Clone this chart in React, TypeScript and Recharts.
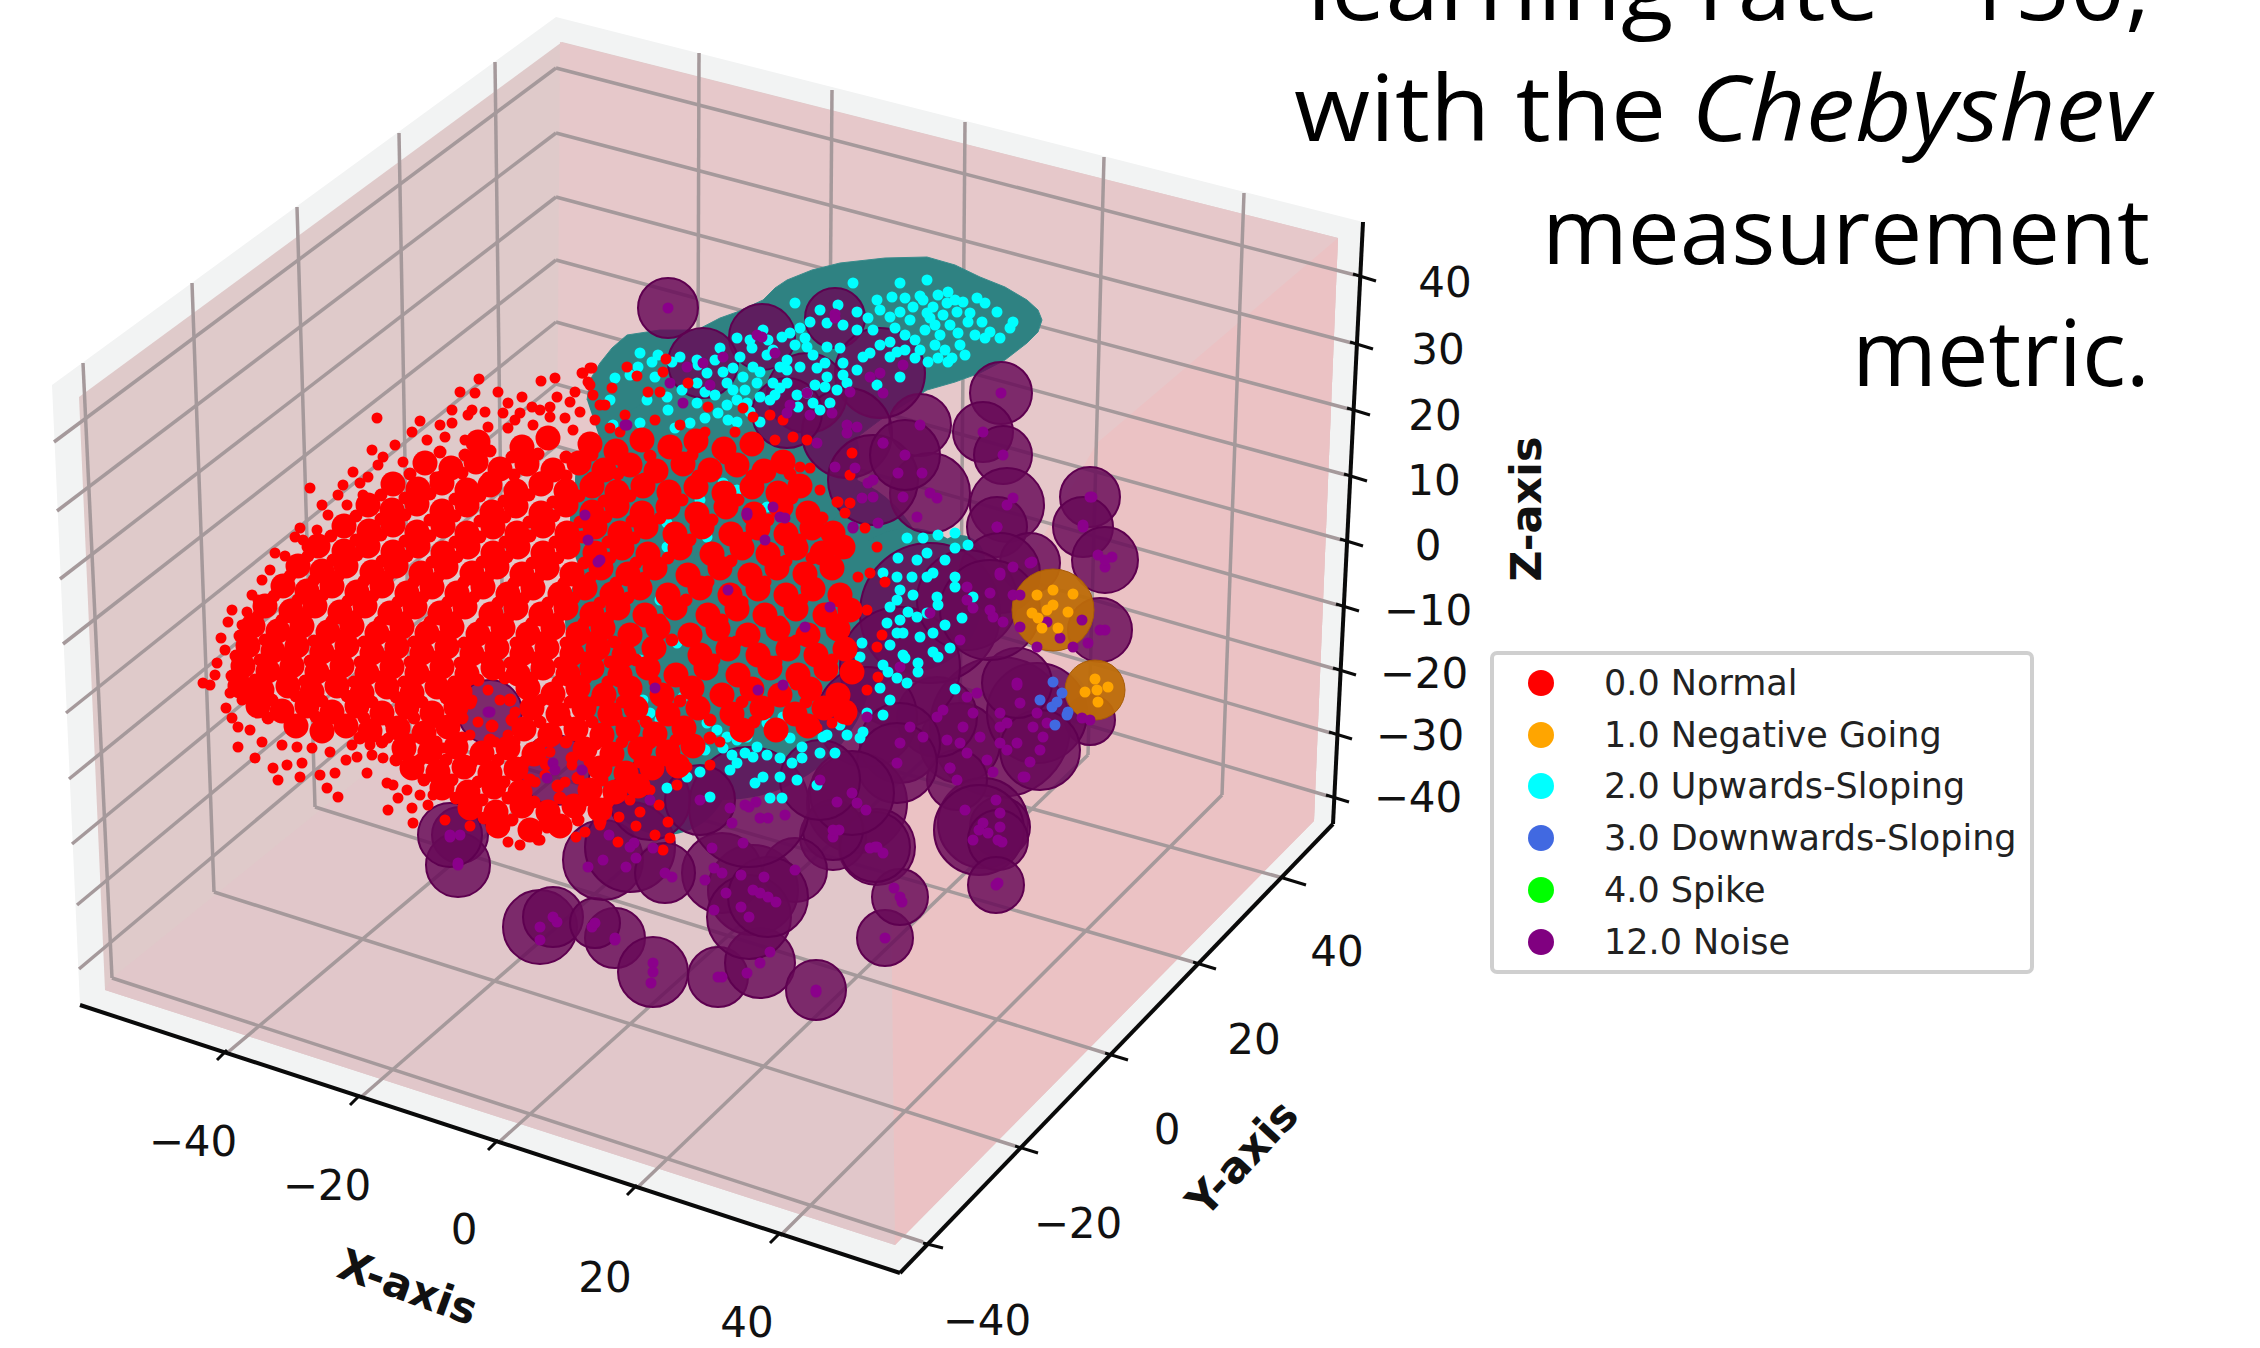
import React from "react";
import { ScatterChart, Scatter, XAxis, YAxis, Legend } from "recharts";

type P = [number, number];
type S = [number, number, number];

const paneOuter: P[] = [[52,385],[556,17],[1363,222],[1333,824],[900,1273],[80,1005]];
const paneBase: P[] = [[79,397],[562,42],[1338,238],[1314,821],[895,1245],[105,990]];
const paneFloor: P[] = [[112,978],[556,620],[890,800],[895,1245],[105,990]];
const paneRight: P[] = [[560,42],[1338,238],[1314,821],[890,800],[556,620]];
const panePink: P[] = [[1338,238],[1314,821],[895,1245],[890,800],[1097,443]];
const tealRidge: P[] = [[587,400],[590,380],[600,363],[612,348],[627,335],[660,330],[697,330],[720,318],[737,312],[763,300],[775,288],[787,280],[812,270],[840,263],[885,258],[927,257],[955,265],[980,277],[1005,287],[1027,300],[1038,310],[1042,320],[1038,332],[1027,343],[1005,360],[980,373],[955,382],[927,390],[880,420],[800,480],[620,500]];

const gridSegments: [P, P][] = [
  [[54,442],[556,68]],[[57,511],[556,133]],[[60,579],[556,197]],[[63,644],[556,260]],[[66,713],[556,322]],[[69,779],[556,384]],[[72,844],[556,446]],[[77,905],[556,507]],[[79,969],[556,568]],
  [[556,68],[1355,275]],[[556,133],[1352,343]],[[556,197],[1349,409]],[[556,260],[1346,475]],[[556,322],[1342,540]],[[556,384],[1338,605]],[[556,446],[1335,669]],[[556,507],[1331,733]],[[556,568],[1328,796]],
  [[83,363],[112,978]],[[192,283],[214,892]],[[297,207],[315,807]],[[399,133],[410,735]],[[495,62],[503,663]],
  [[699,53],[697,658]],[[832,90],[827,692]],[[965,122],[960,727]],[[1104,157],[1088,755]],[[1244,193],[1222,795]],
  [[112,978],[923,1242]],[[214,892],[1015,1146]],[[315,807],[1105,1053]],[[410,735],[1193,962]],[[503,663],[1283,878]],
  [[227,1053],[697,658]],[[360,1098],[827,692]],[[498,1143],[960,727]],[[637,1188],[1088,755]],[[780,1236],[1222,795]],
];
const axisSegments: [P, P][] = [
  [[80,1005],[900,1273]],[[900,1273],[1333,824]],[[1363,222],[1333,824]],
  [[217,1060],[227,1050]],[[350,1105],[360,1095]],[[488,1150],[498,1140]],[[627,1195],[637,1185]],[[770,1243],[780,1233]],
  [[923,1243],[943,1248]],[[1015,1146],[1038,1153]],[[1105,1053],[1128,1060]],[[1193,962],[1216,969]],[[1283,878],[1306,885]],
  [[1353,274],[1376,281]],[[1350,342],[1373,349]],[[1347,408],[1370,415]],[[1344,474],[1367,481]],[[1340,539],[1363,546]],[[1336,604],[1359,611]],[[1333,668],[1356,675]],[[1329,732],[1352,739]],[[1326,795],[1349,802]],
];

const xTickLabels: [string, number, number][] = [["−40",193,1141],["−20",327,1185],["0",464,1229],["20",605,1277],["40",747,1322]];
const yTickLabels: [string, number, number][] = [["−40",987,1320],["−20",1078,1223],["0",1167,1129],["20",1254,1039],["40",1337,951]];
const zTickLabels: [string, number, number][] = [["40",1445,282],["30",1438,349],["20",1435,415],["10",1434,480],["0",1428,545],["−10",1428,610],["−20",1424,673],["−30",1420,735],["−40",1418,797]];
const axisNames: [string, number, number, number][] = [["X-axis",408,1287,20],["Y-axis",1242,1158,-47],["Z-axis",1526,509,-90]];
const titleLines: [string, number, number][] = [["learning rate= 150,",843,20],["with the Chebyshev",856,141],["measurement",608,264],["metric.",298,386]];

const legendNames = ["0.0 Normal","1.0 Negative Going","2.0 Upwards-Sloping","3.0 Downwards-Sloping","4.0 Spike","12.0 Noise"];
const legendColors = ["#ff0000","#ffa500","#00ffff","#4169e1","#00ff00","#800080"];

const tealBlobs: S[] = [
  [700,520,130],[725,650,150],[640,620,75],[810,590,120],[665,770,65],[910,600,72],[960,560,25],[620,480,45],[780,460,80],
];
const noiseSpheres: S[] = [
  [668,308,30],[1001,393,31],[920,425,31],[983,432,30],[1003,455,29],[1007,505,37],[997,527,30],
  [762,337,33],[835,318,30],[703,363,35],[880,373,45],[807,393,40],[847,433,45],[787,413,35],[930,493,40],[873,480,45],[905,455,35],
  [1090,497,30],[1083,527,30],[1105,560,33],[1030,563,30],[1000,573,40],[1100,630,32],[1090,720,25],
  [1000,727,70],[960,743,40],[1037,713,50],[1040,750,40],[1017,683,35],[983,823,45],[1000,827,30],[957,780,30],[937,717,40],
  [930,613,70],[900,667,60],[867,717,50],[900,743,40],[967,600,50],[990,610,50],
  [857,803,50],[877,847,38],[833,837,33],[897,763,40],
  [460,835,28],[458,865,32],[540,927,37],[553,917,30],[615,938,30],[595,923,25],[653,972,35],[718,977,30],[760,963,35],[816,990,30],
  [885,938,28],[900,897,28],[875,847,35],[833,830,30],[852,793,42],
  [753,890,45],[722,873,40],[795,870,32],[749,917,42],[768,897,40],[749,807,60],
  [603,860,40],[630,847,45],[665,873,30],[979,830,45],[998,840,30],[996,885,28],
  [490,712,32],[555,770,35],[450,835,32],[650,800,40],[700,800,35],[820,780,40],
];
const orangeSpheres: S[] = [[1053,610,41],[1095,690,30]];
const blueSpheres: S[] = [[1058,700,30]];

const cyanPts: P[] = [
  [853,283],[900,283],[927,280],[795,303],[892,297],[948,292],[923,300],[877,300],[880,310],[913,307],[933,307],[963,302],[977,298],[985,303],[947,303],[900,312],[927,313],[943,315],[957,312],[970,313],[997,312],[1013,322],[1010,328],[890,317],[910,320],[935,325],[950,325],[925,330],[905,335],[915,340],[940,335],[958,333],[975,335],[990,332],[1000,338],[985,338],[960,345],[935,345],[920,350],[945,350],[905,350],[915,358],[952,358],[938,358],[948,362],[890,342],[897,352],[968,322],[982,322],[920,296],[938,295],[955,300],[905,298],[868,318],[895,328],[930,318],[965,355],[928,362],
  [820,310],[857,312],[838,305],[810,322],[800,328],[827,323],[843,325],[857,330],[873,330],[880,345],[870,353],[890,357],[900,377],[877,385],[863,357],[827,347],[807,347],[813,355],[840,348],[857,370],[843,363],[843,375],[825,363],[817,368],[827,377],[825,387],[837,390],[847,383],[800,367],[787,360],[782,337],[790,333],[773,350],[780,367],[787,370],[763,330],[787,383],[773,383],[807,393],[797,395],[820,410],[830,403],[798,407],[780,388],[813,403],[795,345],[805,338],[768,340],[760,372],[775,395],[815,385],
  [737,338],[750,340],[752,348],[720,348],[697,360],[715,360],[698,365],[680,357],[658,355],[640,353],[638,367],[652,362],[615,378],[630,375],[655,377],[672,362],[707,373],[723,372],[740,357],[733,368],[753,367],[767,355],[743,377],[727,383],[733,390],[757,383],[697,383],[610,400],[647,400],[667,397],[697,403],[718,413],[737,400],[747,403],[760,397],[770,400],[727,405],[737,422],[760,422],[690,423],[675,428],[668,410],[640,423],[613,425],[705,392],[682,390],[715,395],[745,390],[750,412],[705,418],[728,420],
  [907,538],[923,538],[955,533],[938,535],[968,545],[955,548],[898,558],[917,560],[927,553],[945,560],[933,573],[955,577],[955,587],[927,577],[912,577],[897,577],[883,573],[900,590],[897,600],[913,595],[937,597],[938,605],[973,597],[927,613],[908,612],[890,607],[887,623],[900,620],[917,617],[945,625],[962,618],[903,633],[920,637],[933,633],[897,633],[890,645],[950,648],[933,652],[938,657],[862,643],[903,655],[905,658],[918,663],[918,672],[860,657],[883,665],[897,678],[888,672],[907,683],[955,689],[880,688],[890,700],[883,715],[867,713],
  [840,725],[863,732],[847,735],[860,738],[827,735],[807,723],[802,747],[790,738],[820,753],[835,753],[802,758],[792,763],[780,758],[767,755],[753,757],[737,763],[730,770],[763,777],[780,777],[797,780],[817,785],[755,783],[770,798],[782,798],[710,797],[667,788],[687,777],[700,772],[705,750],[693,748],[717,730],[727,737],[737,740],[747,737],[757,747],[723,748],[745,753],[732,755],[643,700],[650,713],[683,697],[693,712],[707,723],[660,720],[767,723],[783,717],[823,737],
  [667,547],[707,537],[667,523],[700,500],[723,483],[737,490],[767,507],[783,490],[677,643],[632,583],[833,670],[820,660],[660,600],[745,640],[790,610],[640,660],
];

const redCore: P[] = [
  [478,442],[522,447],[548,438],[590,444],[616,451],[642,440],[670,447],[696,441],[724,449],[752,444],
  [425,463],[451,468],[476,462],[500,469],[527,464],[553,470],[579,463],[604,470],[630,465],[656,471],[683,464],[710,470],[737,465],[764,471],[783,462],
  [393,484],[418,489],[442,483],[467,490],[490,485],[516,491],[541,484],[566,491],[592,486],[617,492],[643,486],[669,492],[696,487],[724,493],[752,487],[778,493],[800,486],
  [368,505],[392,510],[417,504],[442,511],[467,505],[492,512],[516,506],[541,513],[566,505],[592,512],[617,506],[642,513],[668,507],[697,514],[726,507],[754,514],[781,507],[808,513],
  [344,526],[369,531],[393,525],[417,532],[443,526],[467,533],[493,527],[517,533],[543,526],[567,533],[595,527],[620,533],[646,527],[675,534],[702,527],[731,534],[758,528],[786,534],[812,528],[833,533],
  [318,546],[344,551],[368,546],[393,552],[418,546],[443,553],[468,547],[493,553],[518,547],[543,553],[568,547],[595,553],[622,548],[648,554],[680,548],[712,554],[742,548],[768,554],[796,548],[822,553],[843,547],
  [298,566],[322,571],[346,566],[372,572],[396,566],[421,573],[446,567],[472,573],[497,567],[522,574],[547,568],[572,574],[601,568],[628,574],[655,568],[688,575],[720,568],[750,575],[777,568],[805,574],[832,568],
  [283,586],[307,591],[332,586],[357,592],[382,586],[407,593],[432,587],[457,593],[483,587],[508,594],[533,588],[560,594],[585,588],[612,594],[640,588],[668,595],[700,588],[730,595],[758,589],[786,595],[813,589],[840,595],
  [265,606],[291,611],[315,606],[340,612],[365,606],[390,613],[415,607],[440,613],[465,607],[491,614],[516,608],[541,614],[566,608],[592,614],[618,608],[645,615],[675,608],[708,615],[737,609],[765,615],[796,609],[825,615],[850,610],
  [253,626],[278,631],[302,626],[328,632],[352,626],[377,633],[402,627],[427,633],[452,627],[478,634],[503,628],[528,634],[553,628],[578,634],[603,628],[630,635],[658,628],[690,635],[718,629],[748,635],[778,629],[808,635],[838,629],
  [248,646],[273,651],[297,646],[322,652],[347,646],[372,653],[397,647],[422,653],[447,647],[472,654],[497,648],[522,654],[547,648],[572,654],[598,648],[624,655],[654,648],[700,655],[728,649],[758,655],[788,649],[816,655],[845,649],
  [243,666],[268,671],[292,666],[317,672],[342,666],[367,673],[392,667],[417,673],[442,667],[467,674],[493,668],[518,674],[543,668],[568,674],[592,668],[620,675],[648,668],[676,675],[706,668],[738,675],[770,668],[798,675],[826,669],[852,672],
  [240,686],[262,690],[288,686],[312,692],[337,686],[362,693],[387,687],[412,693],[437,687],[460,692],[528,688],[553,694],[578,688],[604,695],[630,688],[662,695],[692,688],[722,695],[752,689],[780,695],[810,689],[838,695],
  [258,706],[282,711],[307,706],[332,712],[357,706],[382,713],[407,707],[432,713],[456,707],[532,708],[558,714],[584,708],[610,714],[636,708],[668,714],[698,708],[732,714],[762,708],[795,714],[824,708],[845,712],
  [296,726],[322,731],[346,726],[370,731],[398,728],[424,733],[448,727],[524,729],[550,735],[576,729],[602,735],[628,729],[655,734],[684,728],[742,730],[776,730],[808,726],
  [404,748],[430,752],[456,747],[482,753],[508,748],[534,754],[585,749],[612,754],[640,749],[668,752],[693,746],
  [412,768],[438,772],[464,767],[490,773],[516,769],[600,768],[626,773],[652,768],[678,766],
  [442,788],[468,792],[494,787],[520,792],[590,790],[615,792],[638,786],
  [470,808],[496,812],[522,806],[548,812],[574,806],[600,810],
  [498,826],[530,830],[560,826],
];

const redFill: P[] = [
  [440,452],[465,455],[490,451],[512,457],[538,454],[566,457],[592,455],[618,459],[650,456],[692,455],[725,458],
  [410,474],[436,478],[462,473],[488,478],[514,475],[540,478],[566,476],[592,478],[618,474],[644,479],[698,476],[752,476],[790,474],
  [381,495],[405,498],[430,494],[455,499],[480,496],[504,501],[529,495],[553,502],[579,496],[604,501],[630,496],[682,500],[738,500],[792,498],
  [356,516],[381,519],[405,515],[430,520],[455,516],[480,521],[505,517],[529,522],[554,516],[580,522],[606,517],[632,521],[660,518],[712,520],[768,520],[822,518],
  [331,536],[356,540],[381,535],[405,541],[430,536],[455,542],[480,537],[505,542],[530,536],[555,542],[582,537],[608,542],[634,538],[690,540],[746,538],[800,540],
  [308,556],[333,560],[357,555],[382,561],[407,556],[432,562],[457,557],[482,562],[507,557],[532,563],[558,558],[584,563],[610,558],[636,563],[668,558],[731,561],[786,561],[812,558],
  [290,576],[314,580],[339,575],[364,581],[388,576],[414,582],[438,577],[464,582],[488,577],[514,583],[538,578],[564,583],[590,578],[616,583],[644,578],[708,582],[765,582],
  [274,596],[298,600],[323,595],[348,601],[373,596],[398,602],[423,597],[448,602],[474,597],[498,603],[524,598],[548,603],[574,598],[600,603],[628,598],[686,600],[742,602],[802,600],
  [258,616],[282,620],[306,615],[332,621],[356,616],[380,622],[406,617],[430,622],[456,617],[482,623],[508,618],[532,623],[558,618],[584,623],[608,618],[660,620],[722,620],[780,622],[838,620],
  [240,636],[265,640],[290,635],[314,641],[340,636],[364,642],[390,637],[414,642],[440,637],[464,643],[490,638],[516,643],[540,638],[566,643],[590,638],[614,642],[672,640],[736,642],[796,641],
  [236,656],[260,660],[284,655],[310,661],[334,656],[360,662],[384,657],[410,662],[434,657],[460,663],[484,658],[510,663],[534,658],[560,663],[585,658],[610,662],[636,660],[714,660],[776,662],[832,660],
  [232,676],[255,680],[280,675],[305,681],[330,676],[354,682],[380,677],[404,682],[430,677],[454,682],[478,680],[505,678],[532,678],[558,682],[586,678],[608,682],[655,682],[746,682],[796,684],
  [248,697],[272,700],[296,696],[322,701],[347,696],[372,702],[396,697],[422,702],[446,698],[470,703],[510,700],[492,726],[542,700],[570,702],[596,700],[622,702],[680,701],[742,702],[806,702],
  [268,718],[292,722],[316,717],[340,722],[364,718],[390,722],[414,718],[438,722],[462,718],[512,720],[540,722],[566,720],[592,722],[618,720],[646,722],[710,720],[754,722],
  [360,738],[382,742],[410,740],[436,742],[462,738],[490,740],[514,742],[540,744],[566,742],[596,744],[622,742],[650,743],[676,740],[710,738],
  [396,760],[420,760],[446,760],[472,762],[498,760],[524,762],[546,764],[572,758],[590,762],[614,760],[640,762],[666,760],
  [424,780],[452,780],[478,782],[504,782],[530,780],[558,786],[578,778],[602,780],[628,782],
  [456,798],[482,800],[508,798],[534,802],[560,798],[586,800],[608,802],
  [484,818],[512,820],[545,822],[578,820],[600,822],
];

const redDots: P[] = [
  [228,622],[242,625],[221,638],[217,663],[210,685],[203,683],[230,693],[242,700],[252,595],[258,600],[275,553],[295,537],[303,540],[310,488],[343,485],[360,483],[377,418],[420,421],[452,410],[460,392],[475,393],[479,379],[498,392],[541,381],[555,378],[582,373],[592,368],[588,382],[472,410],[468,415],[452,423],[427,440],[445,437],[465,440],[482,448],[423,460],[403,462],[383,457],[378,465],[368,477],[363,495],[347,505],[328,515],[317,530],[307,547],
  [508,403],[522,397],[532,407],[503,413],[520,413],[550,407],[570,402],[557,397],[488,427],[508,428],[533,425],[550,417],[565,418],[580,412],[595,420],[610,428],[573,430],[600,405],
  [238,747],[255,758],[273,768],[287,765],[302,763],[278,780],[300,777],[320,775],[335,773],[327,788],[338,797],[367,773],[388,810],[413,823],[352,745],[297,747],[238,727],[383,758],[387,783],[393,785],[410,750],[425,748],[443,748],[388,738],[370,745],[357,757],[407,790],[420,795],[433,795],[428,805],
  [508,842],[520,845],[503,827],[538,840],[563,825],[547,828],[540,840],[576,837],[619,817],[640,812],[655,835],[670,838],[663,850],[668,822],[659,805],[600,825],[630,800],[585,832],[650,790],
  [852,453],[850,475],[810,468],[793,437],[807,440],[837,502],[850,503],[845,513],[865,528],[877,547],[847,553],[870,573],[885,582],[858,577],[867,610],[882,635],[877,647],[878,677],[867,690],[848,720],[832,723],[817,728],[677,785],[687,767],[710,765],[720,742],
  [590,368],[583,373],[627,367],[637,376],[666,359],[593,395],[612,388],[688,383],[648,392],[660,392],[743,408],[708,407],[753,417],[770,415],[783,420],[775,440],[800,467],[820,490],[838,502],[590,385],[605,405],[625,415],[655,420],[680,425],[705,432],[735,432],[620,432],[663,372],
  [225,650],[232,610],[247,612],[262,580],[270,570],[285,556],[300,528],[322,505],[338,495],[353,472],[372,450],[395,445],[412,432],[440,425],[485,412],[515,420],[540,410],[575,392],
  [215,675],[226,708],[232,718],[250,730],[262,742],[282,745],[312,748],[330,752],[346,760],[372,755],[398,798],[412,808],
  [488,690],[500,700],[478,722],[508,735],[470,735],[495,742],[515,712],[472,700],[545,775],[565,782],[535,782],[572,765],[550,752],[445,820],[470,826],[618,842],[636,826],
];

const noiseExtra: P[] = [
  [757,335],[835,314],[723,357],[775,353],[687,367],[670,383],[710,385],[683,403],[627,425],[790,405],[810,415],[832,413],[850,392],[883,393],[870,377],[903,365],[817,443],[847,425],[857,427],[835,467],[855,468],[883,443],[898,473],[922,473],[868,483],[862,498],[903,497],[873,497],[937,498],[878,523],[917,517],[853,527],[747,515],[780,517],[773,507],
  [967,697],[977,693],[1017,685],[943,710],[973,713],[1000,713],[1020,703],[963,727],[980,737],[1007,723],[1033,727],[947,740],[1000,743],[1017,743],[1043,737],[967,753],[987,760],[1007,750],[1030,762],[993,772],[1023,777],[923,737],[910,727],[950,768],[1047,723],[1082,718],[997,527],[1013,498],[1013,595],[1020,595],[1000,575],[1013,567],[1032,562],[990,593],[973,608],[1003,622],[960,640],[967,587],[993,617],[1020,627],[1037,647],[1060,638],[1073,647],[1082,620],[1047,622],[1088,643],[1105,630],[1098,555],[1112,557],[1105,567],[1092,497],[1083,525],
  [730,808],[745,805],[756,802],[732,823],[760,818],[768,818],[785,815],[743,843],[712,848],[714,868],[705,880],[741,875],[764,877],[726,893],[760,893],[714,910],[741,907],[776,902],[672,877],[634,843],[636,858],[626,867],[609,835],[653,848],[588,867],[870,848],[883,853],[839,830],[837,802],[866,810],[894,888],[902,902],[965,810],[996,800],[1000,813],[973,840],[988,833],[1002,842],[998,883],[1025,777],[950,768],[557,922],[540,940],[592,927],[615,940],[653,963],[651,983],[722,977],[747,973],[770,952],[816,992],[458,863],
  [588,540],[598,562],[488,712],[553,763],[547,778],[582,770],[450,837],[585,515],[625,425],[747,513],[765,540],[830,607],[805,627],[783,685],[728,590],[655,688],[758,690],[600,560],[853,528],[785,518],[883,443],
];
const orangePts: P[] = [[1037,595],[1053,590],[1073,594],[1032,613],[1038,618],[1047,610],[1053,605],[1068,612],[1042,628],[1058,628],[1095,679],[1085,692],[1097,690],[1108,687],[1098,702]];
const bluePts: P[] = [[1053,682],[1040,700],[1062,693],[1052,707],[1057,702],[1068,712],[1055,725],[1067,715]];
const spikePts: P[] = [];

const toPoints = (a: P[]) => a.map(([x, y]) => ({ x, y }));
const toSpheres = (a: S[]) => a.map(([x, y, r]) => ({ x, y, r }));
const noMark = () => <g />;
const W = 2260, H = 1348;
const SANS = "'DejaVu Sans', sans-serif";

const sphereShape = (p: any) => (
  <circle cx={p.cx} cy={p.cy} r={p.payload.r} fill={p.fill} fillOpacity={p.fillOpacity} stroke={p.stroke} strokeWidth={p.strokeWidth} />
);
const discShape = (r: number) => (p: any) => <circle cx={p.cx} cy={p.cy} r={r} fill={p.fill} />;
const dot = discShape(5.5);
const fillDot = discShape(6.5);
const core = discShape(12.5);

const Pane = (pts: P[], fill: string, key: string, stroke = "none") => (
  <Scatter key={key} data={toPoints(pts)} dataKey="y" isAnimationActive={false} legendType="none" shape={noMark}
    line={{ fill, stroke }} />
);
const Seg = (s: [P, P], stroke: string, w: number, key: string) => (
  <Scatter key={key} data={toPoints(s)} dataKey="y" isAnimationActive={false} legendType="none" shape={noMark}
    line={{ stroke, strokeWidth: w, fill: "none" }} />
);
const labelRows = (a: [string, number, number][]) => a.map(([label, x, y]) => ({ label, x, y }));
const tickShape = (p: any) => (
  <text x={p.cx} y={p.cy} textAnchor="middle" dominantBaseline="central" fontFamily={SANS} fontSize={42} fill="#111">{p.payload.label}</text>
);
const nameShape = (p: any) => (
  <text x={p.cx} y={p.cy} textAnchor="middle" dominantBaseline="central" fontFamily={SANS} fontSize={43} fontWeight="bold" fill="#111"
    transform={`rotate(${p.payload.angle} ${p.cx} ${p.cy})`}>{p.payload.label}</text>
);
const titleShape = (p: any) => {
  const t: string = p.payload.label;
  const i = t.indexOf("Chebyshev");
  return (
    <text x={p.cx} y={p.cy} textAnchor="end" fontFamily="'Open Sans', sans-serif" fontSize={91} fill="#000"
      textLength={p.payload.w} lengthAdjust="spacingAndGlyphs">
      {i >= 0 ? <>{t.slice(0, i)}<tspan fontStyle="italic">{t.slice(i)}</tspan></> : t}
    </text>
  );
};

const LegendBox = () => (
  <div style={{ boxSizing: "border-box", width: 544, height: 323, border: "4px solid #cfcfcf", borderRadius: 7, background: "#fff", paddingTop: 2, fontFamily: SANS, fontSize: 35, color: "#222" }}>
    {legendNames.map((n, i) => (
      <div key={n} style={{ display: "flex", alignItems: "center", height: 51.8, whiteSpace: "nowrap" }}>
        <span style={{ display: "inline-block", width: 26, height: 26, borderRadius: 13, background: legendColors[i], marginLeft: 34, marginRight: 50 }} />
        {n}
      </div>
    ))}
  </div>
);

export default function App() {
  return (
    <div style={{ position: "absolute", left: 0, top: 0, width: W, height: H, overflow: "hidden", background: "#fff" }}>
      <ScatterChart width={W} height={H} margin={{ top: 0, right: 0, bottom: 0, left: 0 }}>
        <XAxis type="number" dataKey="x" domain={[0, W]} hide allowDataOverflow />
        <YAxis type="number" dataKey="y" domain={[0, H]} reversed hide allowDataOverflow />

        {Pane(paneOuter, "#f2f3f3", "po")}
        {Pane(paneBase, "#dfcaca", "pb")}
        {Pane(paneFloor, "#e1c7ca", "pf")}
        {Pane(paneRight, "#e6c8ca", "pr")}
        {Pane(panePink, "#ebc2c4", "pp")}
        {gridSegments.map((s, i) => Seg(s, "#a5999b", 3.5, `g${i}`))}
        {axisSegments.map((s, i) => Seg(s, "#0a0a0a", i < 3 ? 4 : 3, `a${i}`))}

        {Pane(tealRidge, "#2f8282", "teal", "#3a8c8c")}
        <Scatter data={toSpheres(tealBlobs)} shape={sphereShape} fill="#2f8282" isAnimationActive={false} legendType="none" />
        <Scatter data={toSpheres(blueSpheres)} shape={sphereShape} fill="#4169e1" fillOpacity={0.35} isAnimationActive={false} legendType="none" />
        <Scatter data={toSpheres(noiseSpheres)} shape={sphereShape} fill="#680a58" fillOpacity={0.83} stroke="#5e0050" strokeWidth={2} isAnimationActive={false} legendType="none" />
        <Scatter data={toSpheres(orangeSpheres)} shape={sphereShape} fill="#bd6c08" fillOpacity={0.95} stroke="#a85c06" strokeWidth={1} isAnimationActive={false} legendType="none" />

        <Scatter name={legendNames[2]} data={toPoints(cyanPts)} shape={dot} fill="#00ffff" isAnimationActive={false} />
        <Scatter name={legendNames[0]} data={toPoints(redDots)} shape={dot} fill="#ff0000" isAnimationActive={false} />
        <Scatter data={toPoints(redCore)} shape={core} fill="#ff0000" isAnimationActive={false} legendType="none" />
        <Scatter data={toPoints(redFill)} shape={fillDot} fill="#ff0000" isAnimationActive={false} legendType="none" />
        <Scatter name={legendNames[5]} data={[...toPoints(noiseExtra), ...noiseSpheres.map(([x, y]) => ({ x, y }))]} shape={dot} fill="#8b008b" isAnimationActive={false} />
        <Scatter name={legendNames[3]} data={toPoints(bluePts)} shape={dot} fill="#4169e1" isAnimationActive={false} />
        <Scatter name={legendNames[4]} data={toPoints(spikePts)} shape={dot} fill="#00ff00" isAnimationActive={false} />
        <Scatter name={legendNames[1]} data={toPoints(orangePts)} shape={dot} fill="#ffa500" isAnimationActive={false} />

        <Scatter data={labelRows(xTickLabels)} shape={tickShape} isAnimationActive={false} legendType="none" />
        <Scatter data={labelRows(yTickLabels)} shape={tickShape} isAnimationActive={false} legendType="none" />
        <Scatter data={labelRows(zTickLabels)} shape={tickShape} isAnimationActive={false} legendType="none" />
        <Scatter data={axisNames.map(([label, x, y, angle]) => ({ label, x, y, angle }))} shape={nameShape} isAnimationActive={false} legendType="none" />
        <Scatter data={titleLines.map(([label, w, y]) => ({ label, w, x: 2150, y }))} shape={titleShape} isAnimationActive={false} legendType="none" />

        <Legend layout="horizontal" verticalAlign="middle" align="center" content={<LegendBox />}
          wrapperStyle={{ position: "absolute", left: 1490, top: 651, width: 544, height: 323 }} />
      </ScatterChart>
    </div>
  );
}
